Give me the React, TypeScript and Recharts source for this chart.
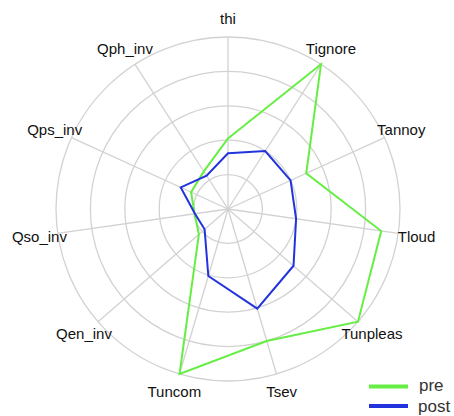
import React from 'react';
import { RadarChart, Radar, PolarGrid, PolarAngleAxis, PolarRadiusAxis, Legend } from 'recharts';

const categories = ['thi', 'Tignore', 'Tannoy', 'Tloud', 'Tunpleas', 'Tsev', 'Tuncom', 'Qen_inv', 'Qso_inv', 'Qps_inv', 'Qph_inv'];
const preValues = [2.05, 5.0, 2.5, 4.5, 5.0, 4.0, 5.0, 1.12, 0.98, 1.18, 1.3];
const postValues = [1.62, 2.0, 2.0, 2.0, 2.52, 3.02, 2.03, 0.9, 0.97, 1.51, 1.15];
const radiusTicks = [0, 1, 2, 3, 4, 5];

const data = categories.map((c, i) => ({ axis: c, pre: preValues[i], post: postValues[i] }));

const CX = 228;
const CY = 209;
const OUTER = 172;
const LABEL_R = 190.5;
const RAD = Math.PI / 180;

const AngleTick = (props: any) => {
  const angle = props.payload.coordinate;
  const x = CX + Math.cos(-angle * RAD) * LABEL_R;
  const y = CY + Math.sin(-angle * RAD) * LABEL_R;
  return (
    <text x={x} y={y} textAnchor="middle" dominantBaseline="central" fill="#111" fontSize={15} fontFamily="'Liberation Sans', Arial, sans-serif">
      {props.payload.value}
    </text>
  );
};

const LegendContent = () => (
  <svg width={90} height={44}>
    <line x1={4} y1={11.5} x2={43} y2={11.5} stroke="#66ee44" strokeWidth={4} />
    <text x={54} y={10} dominantBaseline="central" fontSize={17} fill="#333" fontFamily="'Liberation Sans', Arial, sans-serif">pre</text>
    <line x1={4} y1={31} x2={43} y2={31} stroke="#2233dd" strokeWidth={4} />
    <text x={53} y={31.5} dominantBaseline="central" fontSize={17} fill="#333" fontFamily="'Liberation Sans', Arial, sans-serif">post</text>
  </svg>
);

export default function App() {
  return (
    <div style={{ position: 'absolute', left: 0, top: 0, width: 454, height: 416, background: '#fff' }}>
      <RadarChart width={454} height={416} data={data} cx={CX} cy={CY} outerRadius={OUTER} margin={{ top: 0, right: 0, bottom: 0, left: 0 }}>
        <PolarGrid gridType="circle" stroke="#d2d2d2" strokeWidth={1.3} />
        <PolarRadiusAxis domain={[0, 5]} ticks={radiusTicks as any} tickCount={6} tick={false} axisLine={false} />
        <PolarAngleAxis dataKey="axis" tick={<AngleTick />} tickLine={false} axisLine={false} />
        <Radar name="pre" dataKey="pre" stroke="#66ee44" strokeWidth={2} fill="none" fillOpacity={0} isAnimationActive={false} dot={false} />
        <Radar name="post" dataKey="post" stroke="#2233dd" strokeWidth={2} fill="none" fillOpacity={0} isAnimationActive={false} dot={false} />
        <Legend content={<LegendContent />} wrapperStyle={{ position: 'absolute', left: 365, top: 375, width: 90, height: 44 }} />
      </RadarChart>
    </div>
  );
}
